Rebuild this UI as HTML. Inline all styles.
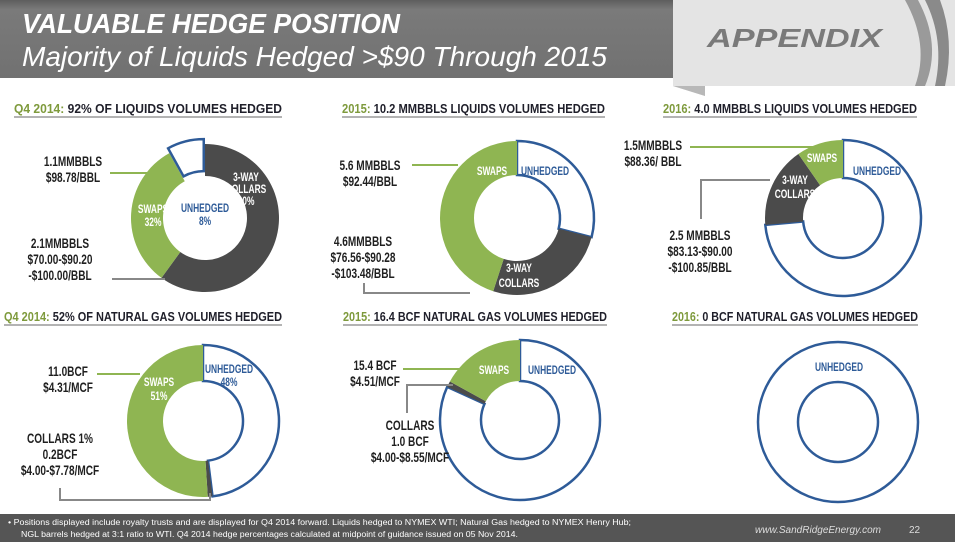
<!DOCTYPE html>
<html><head><meta charset="utf-8"><style>
html,body{margin:0;padding:0;background:#fff;}
svg{display:block;}
text{font-family:"Liberation Sans Narrow","Liberation Sans",sans-serif;}
.t{font-weight:bold;font-size:13px;fill:#1f1f2a;}
.tg{fill:#7e9a3c;}
.lb{font-weight:bold;font-size:14px;fill:#1f1f1f;text-anchor:middle;}
.sw{font-weight:bold;font-size:12px;fill:#fff;text-anchor:middle;}
.uh{font-weight:bold;font-size:12px;fill:#2e5b98;text-anchor:middle;}
</style></head><body>
<svg id="page" width="955" height="542" viewBox="0 0 955 542" xmlns="http://www.w3.org/2000/svg">
<defs><linearGradient id="hg" x1="0" y1="0" x2="0" y2="1"><stop offset="0" stop-color="#5e5e5e"/><stop offset="0.12" stop-color="#7a7a7a"/><stop offset="1" stop-color="#717171"/></linearGradient></defs>
<rect x="0" y="0" width="700" height="78" fill="url(#hg)"/>
<text x="22" y="33" font-size="28" font-style="italic" font-weight="bold" fill="#fff" textLength="378" lengthAdjust="spacingAndGlyphs" style="font-family:'Liberation Sans',sans-serif">VALUABLE HEDGE POSITION</text>
<text x="22" y="66" font-size="28" font-style="italic" fill="#fff" textLength="585" lengthAdjust="spacingAndGlyphs" style="font-family:'Liberation Sans',sans-serif">Majority of Liquids Hedged &gt;$90 Through 2015</text>
<g>
<polygon points="673,0 955,0 955,86 705,86 705,96 673,86" fill="#e4e4e4"/>
<polygon points="673,86 705,86 705,96" fill="#b8b8b8"/>
<path d="M925,0 Q945,40 935,86 L945,86 Q955,40 940,0Z" fill="#8a8a8a"/>
<path d="M905,0 Q930,45 915,86 L925,86 Q942,45 918,0Z" fill="#9a9a9a"/>
<text x="707" y="47" font-size="26" font-style="italic" font-weight="bold" fill="#7a7a7a" textLength="175" lengthAdjust="spacingAndGlyphs" style="font-family:'Liberation Sans',sans-serif">APPENDIX</text>
</g>
<g id="titles"></g>
<g id="charts"></g>
<rect x="0" y="514" width="955" height="28" fill="#555"/>
<text x="8" y="525" font-size="8" fill="#fff" textLength="623" lengthAdjust="spacingAndGlyphs" style="font-family:'Liberation Sans',sans-serif">•   Positions displayed include royalty trusts and are displayed for Q4 2014 forward. Liquids hedged to NYMEX  WTI; Natural Gas hedged to NYMEX Henry Hub;</text>
<text x="21" y="537" font-size="8" fill="#fff" textLength="497" lengthAdjust="spacingAndGlyphs" style="font-family:'Liberation Sans',sans-serif">NGL barrels hedged at 3:1 ratio to WTI.  Q4 2014 hedge percentages calculated at midpoint of guidance issued on 05 Nov 2014.</text>
<text x="755" y="533" font-size="10" font-style="italic" fill="#ddd" style="font-family:'Liberation Sans',sans-serif">www.SandRidgeEnergy.com</text>
<text x="909" y="533" font-size="10" fill="#ddd" style="font-family:'Liberation Sans',sans-serif">22</text>
</svg>
<script>
var NS="http://www.w3.org/2000/svg";
// chart data (percent shares, clockwise from 12 o'clock)
var c1Cats=["3-WAY COLLARS","SWAPS","UNHEDGED"]; var c1Vals=[60,32,8];
var c2Cats=["UNHEDGED","3-WAY COLLARS","SWAPS"]; var c2Vals=[29,26,45];
var c3Cats=["UNHEDGED","3-WAY COLLARS","SWAPS"]; var c3Vals=[73.6,16.7,9.7];
var c4Cats=["UNHEDGED","COLLARS","SWAPS"]; var c4Vals=[48,1,51];
var c5Cats=["UNHEDGED","COLLARS","SWAPS"]; var c5Vals=[81.8,1.2,17];
var c6Cats=["UNHEDGED"]; var c6Vals=[100];
var titleYears=["Q4 2014:","2015:","2016:","Q4 2014:","2015:","2016:"];
var titleRest=[" 92% OF LIQUIDS VOLUMES HEDGED"," 10.2 MMBBLS LIQUIDS VOLUMES HEDGED"," 4.0 MMBBLS LIQUIDS VOLUMES HEDGED"," 52% OF NATURAL GAS VOLUMES HEDGED"," 16.4 BCF NATURAL GAS VOLUMES HEDGED"," 0 BCF NATURAL GAS VOLUMES HEDGED"];

function mk(tag,attrs,parent){var e=document.createElementNS(NS,tag);for(var k in attrs)e.setAttribute(k,attrs[k]);parent.appendChild(e);return e;}
var T=document.getElementById("titles"), C=document.getElementById("charts");
var tpos=[[14,113,268],[342,113,263],[663,113,254],[4,321,278],[343,321,264],[672,321,246]];
for(var i=0;i<6;i++){
  var t=mk("text",{x:tpos[i][0],y:tpos[i][1],"class":"t",textLength:tpos[i][2],lengthAdjust:"spacingAndGlyphs"},T);
  
  
  var s=mk("tspan",{"class":"tg"},t); s.textContent=titleYears[i];
  var s2=mk("tspan",{},t); s2.textContent=titleRest[i];
  var u=mk("line",{x1:tpos[i][0],y1:tpos[i][1]+4,x2:tpos[i][0]+tpos[i][2],y2:tpos[i][1]+4,stroke:"#9a9a9a","stroke-width":1.5},T);
  
  
}
function colorFor(cat){return cat==="UNHEDGED"?"#fff":(cat==="SWAPS"?"#8fb552":"#4b4b4b");}
function pt(cx,cy,r,a){var rad=(a-90)*Math.PI/180;return [cx+r*Math.cos(rad),cy+r*Math.sin(rad)];}
function donut(cats,vals,cx,cy,R,r,explode,name){
  var g=mk("g",{},C);
  
  
  var tot=0; vals.forEach(function(v){tot+=v;});
  var a0=0;
  for(var i=0;i<vals.length;i++){
    var a1=a0+vals[i]/tot*360, c=cats[i];
    var ox=0,oy=0;
    if(explode&&c==="UNHEDGED"&&vals[i]<tot){var m=pt(0,0,5,(a0+a1)/2);ox=m[0];oy=m[1];}
    var el;
    if(a1-a0>=359.99){
      el=mk("path",{d:"M"+(cx-R)+","+cy+"a"+R+","+R+" 0 1,0 "+(2*R)+",0a"+R+","+R+" 0 1,0 "+(-2*R)+",0Z M"+(cx-r)+","+cy+"a"+r+","+r+" 0 1,1 "+(2*r)+",0a"+r+","+r+" 0 1,1 "+(-2*r)+",0Z","fill-rule":"evenodd",fill:"#fff",stroke:"#2e5b98","stroke-width":2.5},g);
    } else {
      var big=(a1-a0)>180?1:0;
      var p1=pt(cx+ox,cy+oy,R,a0),p2=pt(cx+ox,cy+oy,R,a1),p3=pt(cx+ox,cy+oy,r,a1),p4=pt(cx+ox,cy+oy,r,a0);
      var d="M"+p1+"A"+R+","+R+" 0 "+big+",1 "+p2+"L"+p3+"A"+r+","+r+" 0 "+big+",0 "+p4+"Z";
      el=mk("path",{d:d,fill:colorFor(c),stroke:c==="UNHEDGED"?"#2e5b98":"none","stroke-width":2.5},g);
    }
    
    
    a0=a1;
  }
}
donut(c1Cats,c1Vals,205,218,74,42,true,"q4-2014-liquids-donut");
donut(c2Cats,c2Vals,517,218,77,43,false,"2015-liquids-donut");
donut(c3Cats,c3Vals,843,218,78,40,false,"2016-liquids-donut");
donut(c4Cats,c4Vals,203,421,76,40,false,"q4-2014-gas-donut");
donut(c5Cats,c5Vals,520,420,80,39,false,"2015-gas-donut");
donut(c6Cats,c6Vals,838,422,80,40,false,"2016-gas-donut");

function txt(x,y,cls,s,name){
  var sx=cls==="lb"?0.72:0.7;
  var e=mk("text",{x:0,y:0,"class":cls,transform:"translate("+x+","+y+") scale("+sx+",1)"},C);e.textContent=s;
  
  return e;}
function ln(pts,col,name){var e=mk("polyline",{points:pts,fill:"none",stroke:col,"stroke-width":2},C);
  
  }
var G="#8fb552",Y="#888";
// chart 1
txt(73,166,"lb","1.1MMBBLS","swaps-volume-label");txt(73,182,"lb","$98.78/BBL","swaps-price-label");
ln("110,173 162,173",G,"swaps-leader");
txt(60,248,"lb","2.1MMBBLS","collars-volume-label");txt(60,264,"lb","$70.00-$90.20","collars-price-label");txt(60,280,"lb","-$100.00/BBL","collars-price-label-2");
ln("112,279 165,279",Y,"collars-leader");
txt(246,181,"sw","3-WAY","slice-label");txt(246,193,"sw","COLLARS","slice-label");txt(246,205,"sw","60%","slice-label");
txt(153,213,"sw","SWAPS","slice-label");txt(153,226,"sw","32%","slice-label");
txt(205,212,"uh","UNHEDGED","slice-label");txt(205,225,"uh","8%","slice-label");
// chart 2
txt(370,170,"lb","5.6 MMBBLS","swaps-volume-label");txt(370,186,"lb","$92.44/BBL","swaps-price-label");
ln("412,165 458,165",G,"swaps-leader");
txt(363,246,"lb","4.6MMBBLS","collars-volume-label");txt(363,262,"lb","$76.56-$90.28","collars-price-label");txt(363,278,"lb","-$103.48/BBL","collars-price-label-2");
ln("364,283 364,293 470,293",Y,"collars-leader");
txt(492,175,"sw","SWAPS","slice-label");txt(545,175,"uh","UNHEDGED","slice-label");
txt(519,272,"sw","3-WAY","slice-label");txt(519,287,"sw","COLLARS","slice-label");
// chart 3
txt(653,150,"lb","1.5MMBBLS","swaps-volume-label");txt(653,166,"lb","$88.36/ BBL","swaps-price-label");
ln("690,147 815,147",G,"swaps-leader");
txt(700,240,"lb","2.5 MMBBLS","collars-volume-label");txt(700,256,"lb","$83.13-$90.00","collars-price-label");txt(700,272,"lb","-$100.85/BBL","collars-price-label-2");
ln("701,219 701,180 770,180",Y,"collars-leader");
txt(822,162,"sw","SWAPS","slice-label");txt(877,175,"uh","UNHEDGED","slice-label");
txt(795,184,"sw","3-WAY","slice-label");txt(795,198,"sw","COLLARS","slice-label");
// chart 4
txt(68,376,"lb","11.0BCF","swaps-volume-label");txt(68,392,"lb","$4.31/MCF","swaps-price-label");
ln("97,374 140,374",G,"swaps-leader");
txt(60,443,"lb","COLLARS 1%","collars-label");txt(60,459,"lb","0.2BCF","collars-volume-label");txt(60,475,"lb","$4.00-$7.78/MCF","collars-price-label");
ln("60,488 60,500 210,500 210,493",Y,"collars-leader");
txt(159,386,"sw","SWAPS","slice-label");txt(159,400,"sw","51%","slice-label");
txt(229,373,"uh","UNHEDGED","slice-label");txt(229,386,"uh","48%","slice-label");
// chart 5
txt(375,370,"lb","15.4 BCF","swaps-volume-label");txt(375,386,"lb","$4.51/MCF","swaps-price-label");
ln("403,369 460,369",G,"swaps-leader");
txt(410,430,"lb","COLLARS","collars-label");txt(410,446,"lb","1.0 BCF","collars-volume-label");txt(410,462,"lb","$4.00-$8.55/MCF","collars-price-label");
ln("407,413 407,385 453,385",Y,"collars-leader");
txt(494,374,"sw","SWAPS","slice-label");txt(552,374,"uh","UNHEDGED","slice-label");
// chart 6
txt(839,371,"uh","UNHEDGED","slice-label");
</script>
</body></html>
